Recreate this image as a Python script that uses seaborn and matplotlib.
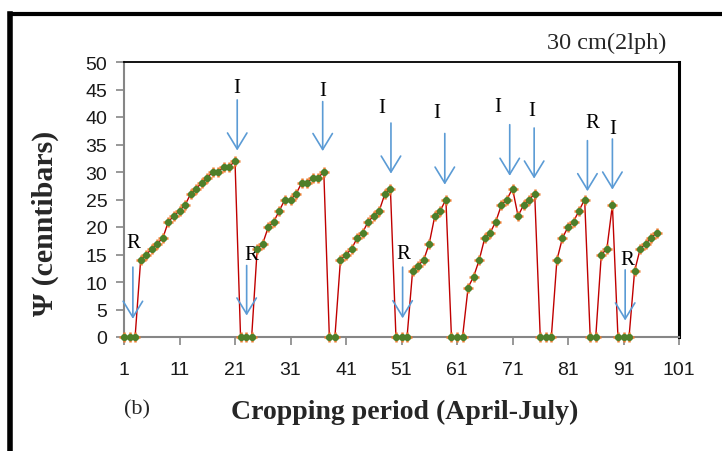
import numpy as np
import pandas as pd
import matplotlib
matplotlib.use("Agg")
import matplotlib.pyplot as plt
from matplotlib.lines import Line2D
import seaborn as sns

# ---- data ----
days = list(range(1, 98))
psi = [0, 0, 0, 14, 15, 16, 17, 18, 21, 22, 23, 24, 26, 27, 28, 29, 30, 30, 31, 31,
       32, 0, 0, 0, 16, 17, 20, 21, 23, 25, 25, 26, 28, 28, 29, 29, 30, 0, 0, 14,
       15, 16, 18, 19, 21, 22, 23, 26, 27, 0, 0, 0, 12, 13, 14, 17, 22, 23, 25, 0,
       0, 0, 9, 11, 14, 18, 19, 21, 24, 25, 27, 22, 24, 25, 26, 0, 0, 0, 14, 18,
       20, 21, 23, 25, 0, 0, 15, 16, 24, 0, 0, 0, 12, 16, 17, 18, 19]

# event arrows: label, x position, arrow top, arrow tip, label x, label y
ev_label = ["R", "I", "R", "I", "I", "R", "I", "I", "I", "R", "I", "R"]
ev_x = [2.6, 21.4, 23.1, 36.8, 49.1, 51.2, 58.8, 70.5, 74.9, 84.5, 89.0, 91.3]
ev_top = [12.7, 43.1, 13.0, 42.8, 38.9, 12.7, 37.0, 38.6, 38.0, 35.7, 36.0, 12.2]
ev_tip = [3.3, 33.9, 3.9, 33.8, 29.7, 3.4, 27.7, 29.3, 28.8, 26.5, 26.8, 3.0]
ev_lx = [2.6, 21.4, 24.0, 36.8, 47.5, 51.4, 57.3, 68.4, 74.5, 85.3, 89.0, 91.6]
ev_ly = [17.2, 45.3, 15.0, 44.9, 41.7, 15.2, 40.8, 41.9, 41.1, 39.0, 38.0, 14.1]

xticks = list(range(1, 102, 10))
yticks = list(range(0, 51, 5))

df = pd.DataFrame({"day": days, "psi": psi})

sns.set_theme(style="white")
plt.rcParams["font.family"] = ["Liberation Sans", "DejaVu Sans"]

fig = plt.figure(figsize=(7.22, 4.52), dpi=100)
ax = fig.add_axes([124 / 722, 1 - 338 / 452, (679 - 124) / 722, (338 - 63) / 452])

sns.lineplot(data=df, x="day", y="psi", ax=ax, color="#C00000", lw=1.0)
ax.plot(df["day"], df["psi"], ls="none", marker="+", ms=7.5, mew=1.8, color="#ED7D31",
        clip_on=False, zorder=4)
ax.plot(df["day"], df["psi"], ls="none", marker="o", ms=5.2, mew=0, color="#4E7F2A",
        clip_on=False, zorder=5)

for lab, x, t, b, lx, ly in zip(ev_label, ev_x, ev_top, ev_tip, ev_lx, ev_ly):
    ax.annotate("", xy=(x, b), xytext=(x, t),
                arrowprops=dict(arrowstyle="->,head_length=1.15,head_width=0.7",
                                color="#5B9BD5", lw=1.2, shrinkA=0, shrinkB=0,
                                mutation_scale=10))
    ax.text(lx, ly, lab, ha="center", va="center", fontsize=15,
            family="Liberation Serif", color="black")

ax.set_xlim(1, 101)
ax.set_ylim(0, 50)
ax.set_xticks(xticks)
ax.set_yticks(yticks)
ax.set_xlabel("")
ax.set_ylabel("")
ax.tick_params(axis="both", which="major", direction="out", length=6, width=1.2,
               color="#868686", labelsize=14, labelcolor="#1a1a1a")
ax.tick_params(axis="x", pad=11)
ax.tick_params(axis="y", pad=6)
ax.xaxis.set_ticks_position("bottom")
ax.yaxis.set_ticks_position("left")
for s in ["left", "bottom"]:
    ax.spines[s].set_color("#868686")
    ax.spines[s].set_linewidth(1.5)
ax.spines["top"].set_color("black")
ax.spines["top"].set_linewidth(1.3)
ax.spines["right"].set_color("black")
ax.spines["right"].set_linewidth(2.2)

fig.text(45 / 722, 1 - 223 / 452, "\u03a8 (cenntibars)", rotation=90, ha="center",
         va="center", fontsize=21.5, fontweight="bold", family="Liberation Serif")
fig.text(405 / 722, 1 - 412 / 452, "Cropping period (April-July)", ha="center",
         va="center", fontsize=20, fontweight="bold", family="Liberation Serif")
fig.text(137 / 722, 1 - 410 / 452, "(b)", ha="center", va="center", fontsize=16,
         family="Liberation Serif")
fig.text(607 / 722, 1 - 43 / 452, "30 cm(2lph)", ha="center", va="center",
         fontsize=17.5, family="Liberation Serif")

# outer frame (left and top edges)
fig.add_artist(Line2D([10 / 722, 10 / 722], [0, 1 - 15 / 452], color="black", lw=4,
                      solid_capstyle="projecting"))
fig.add_artist(Line2D([10 / 722, 1], [1 - 15 / 452, 1 - 15 / 452], color="black", lw=3,
                      solid_capstyle="projecting"))

fig.savefig("out.png", dpi=100)
